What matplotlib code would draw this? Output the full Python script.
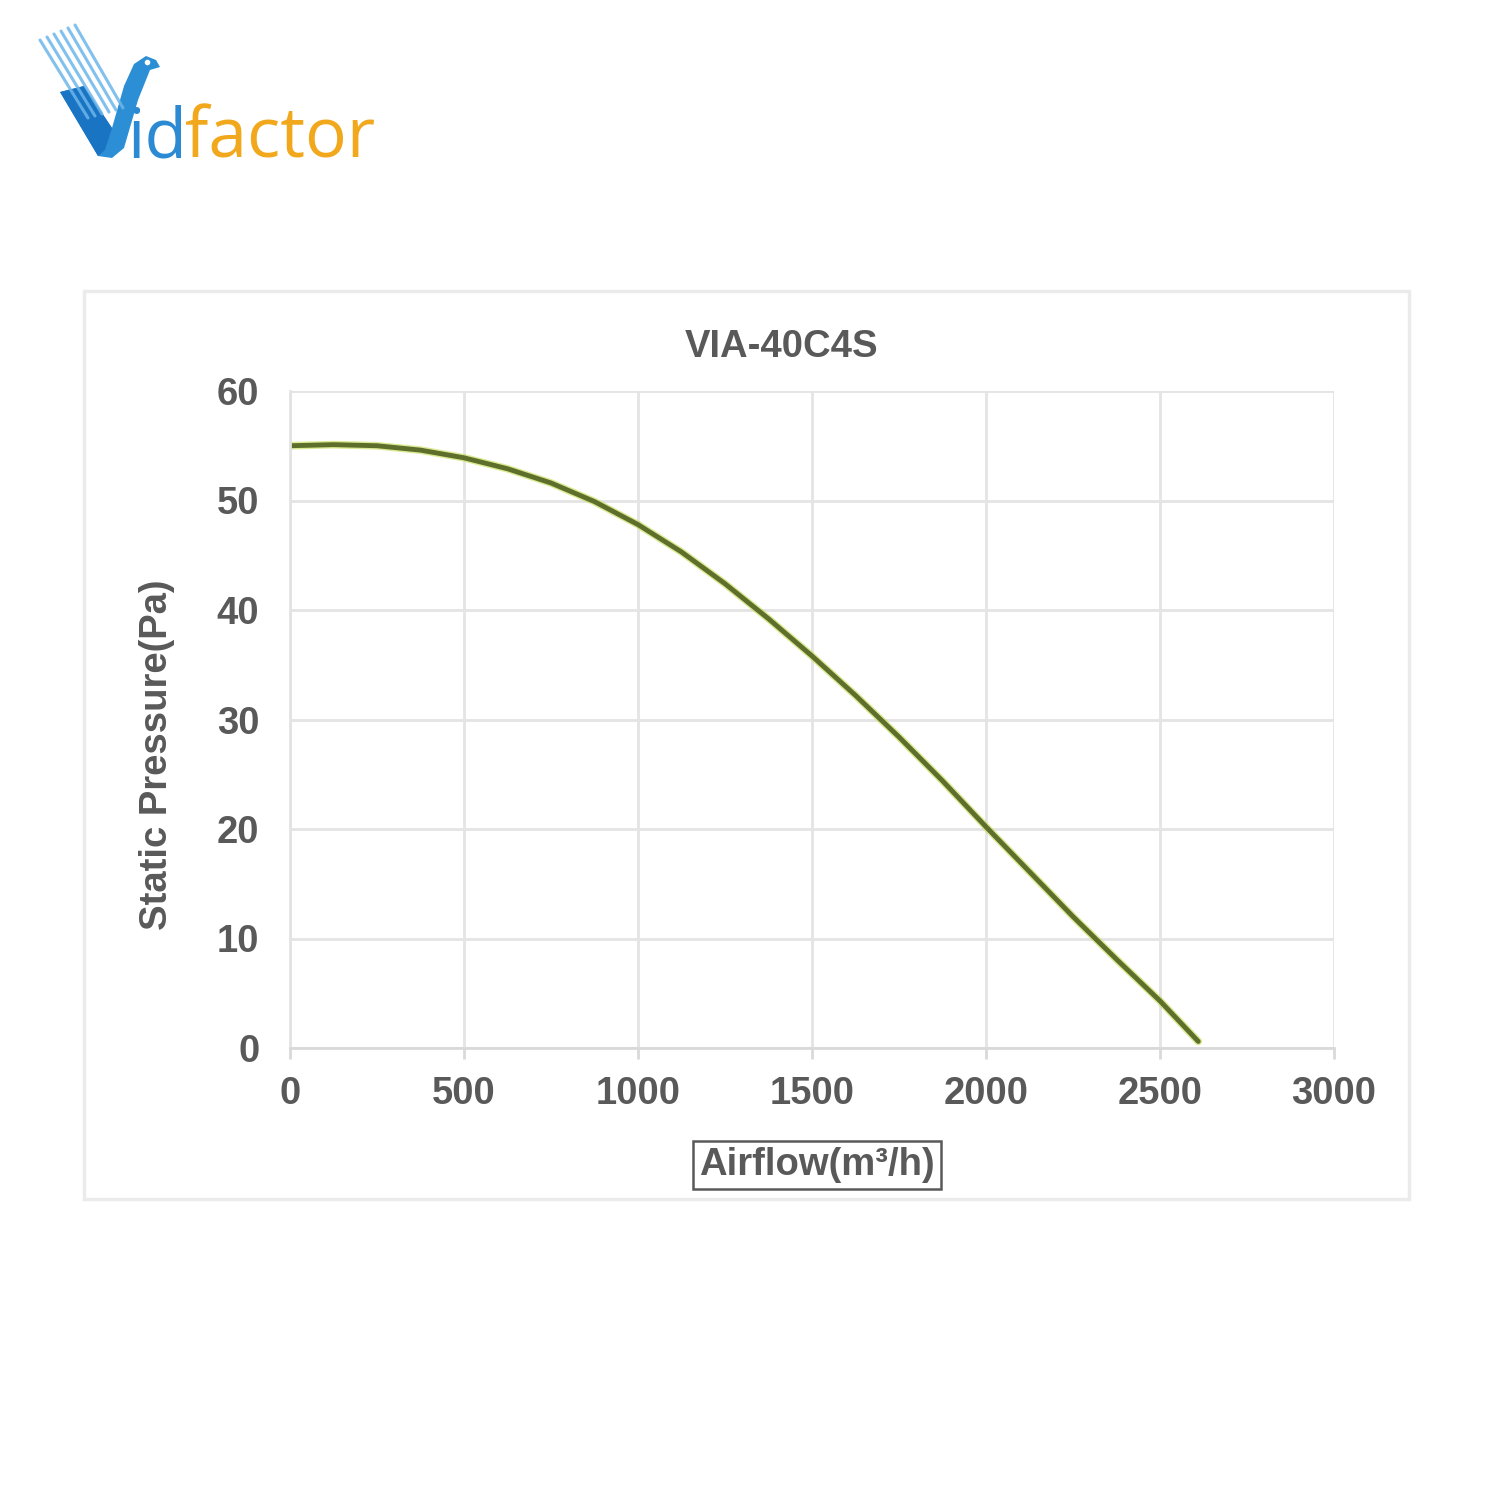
import matplotlib.pyplot as plt
import matplotlib.patheffects as pe
from matplotlib.patches import Rectangle, Polygon

# Fan curve VIA-40C4S
airflow = [0, 125, 250, 375, 500, 625, 750, 875, 1000, 1125, 1250, 1375,
           1500, 1625, 1750, 1875, 2000, 2125, 2250, 2375, 2500, 2610]
pressure = [55.0, 55.1, 55.0, 54.6, 53.9, 52.9, 51.6, 49.9, 47.8, 45.3, 42.4, 39.2,
            35.8, 32.2, 28.4, 24.4, 20.2, 16.1, 12.0, 8.1, 4.3, 0.6]
x_ticks = [0, 500, 1000, 1500, 2000, 2500, 3000]
y_ticks = [0, 10, 20, 30, 40, 50, 60]

title = "VIA-40C4S"
xlabel = "Airflow(m³/h)"
ylabel = "Static Pressure(Pa)"

W, H = 1500, 1500
fig = plt.figure(figsize=(15, 15), dpi=100, facecolor="white")

# overlay in pixel coordinates for the frame and logo
bg = fig.add_axes([0, 0, 1, 1], zorder=0)
bg.set_xlim(0, W)
bg.set_ylim(H, 0)
bg.axis("off")
bg.add_patch(Rectangle((84, 291), 1325, 908, fill=False, ec="#ebebeb", lw=2.5))

# logo: bird shaped V with feather streaks
blue = "#2c8fd6"
for i in range(6):
    x0 = 40 + i * 7
    bg.plot([x0, x0 + 48], [40 - i * 3, 118 - i * 2], color="#6cb6ea", lw=2.2,
            solid_capstyle="round", alpha=0.85)
bg.add_patch(Polygon([(60, 92), (84, 86), (112, 128), (124, 86), (134, 64),
                      (146, 56), (156, 60), (160, 67), (150, 70), (138, 100),
                      (124, 148), (112, 158), (98, 156)], closed=True,
                     fc=blue, ec="none"))
bg.add_patch(Polygon([(60, 92), (84, 86), (112, 128), (105, 150), (98, 156)],
                     closed=True, fc="#1a74c4", ec="none"))
bg.plot([147], [62], marker="o", ms=3, color="white")
t_id = bg.text(128, 158, "id", color="#2b8ad3", fontsize=50, family="Open Sans",
               va="baseline", ha="left")
bg.annotate("factor", xy=(1, 0), xycoords=t_id, xytext=(-2, 0),
            textcoords="offset points", color="#f2a81d", fontsize=50,
            family="Open Sans", va="bottom", ha="left")

# chart
gray = "#595959"
fs = 27.5
ax = fig.add_axes([290 / W, 1 - 1048 / H, (1334 - 290) / W, (1048 - 391) / H], zorder=1)
ax.set_facecolor("none")
ax.plot(airflow, pressure, color="#5e6f2c", lw=3.5, solid_capstyle="round",
        solid_joinstyle="round",
        path_effects=[pe.Stroke(linewidth=5.5, foreground="#c3dc4a", alpha=0.6), pe.Normal()])

ax.set_xlim(0, 3000)
ax.set_ylim(0, 60)
ax.set_xticks(x_ticks)
ax.set_yticks(y_ticks)
ax.grid(True, color="#e4e4e4", lw=2)
ax.set_axisbelow(True)
for s in ax.spines.values():
    s.set_visible(False)
ax.spines["bottom"].set_visible(True)
ax.spines["bottom"].set_color("#d9d9d9")
ax.spines["bottom"].set_linewidth(2)
ax.spines["left"].set_visible(True)
ax.spines["left"].set_color("#e3e3e3")
ax.spines["left"].set_linewidth(2)
ax.tick_params(axis="x", length=8, width=2, color="#d9d9d9", pad=12,
               labelsize=fs, labelcolor=gray)
ax.tick_params(axis="y", length=0, pad=22, labelsize=fs, labelcolor=gray)
for lab in ax.get_xticklabels() + ax.get_yticklabels():
    lab.set_fontfamily("Liberation Sans")
    lab.set_fontweight("bold")

fig.text(782 / W, 1 - 347 / H, title, ha="center", va="center", fontsize=fs,
         fontweight="bold", color=gray, family="Liberation Sans")
fig.text(157 / W, 1 - 755 / H, ylabel, ha="center", va="center", rotation=90,
         fontsize=fs, fontweight="bold", color=gray, family="Liberation Sans")
fig.text(817 / W, 1 - 1165 / H, xlabel, ha="center", va="center", fontsize=fs,
         fontweight="bold", color=gray, family="Liberation Sans",
         bbox=dict(boxstyle="square,pad=0.15", fc="white", ec=gray, lw=1.8))

fig.savefig("out.png", dpi=100, facecolor="white")
